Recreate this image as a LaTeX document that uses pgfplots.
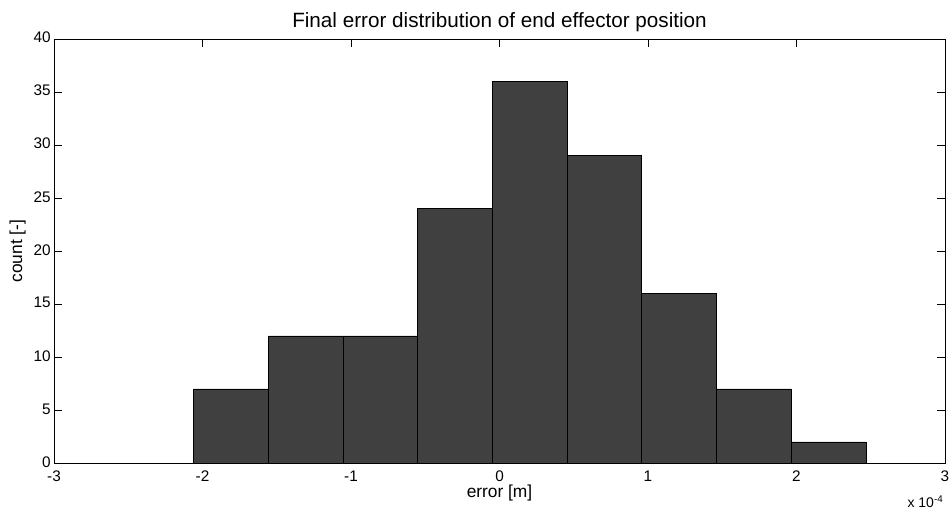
\documentclass[border=0pt]{standalone}
\usepackage{pgfplots}
\pgfplotsset{compat=1.18}
\usepackage{fontspec}
\setmainfont{Liberation Sans}
\definecolor{bargray}{HTML}{404040}

\begin{document}
\begin{tikzpicture}
\begin{axis}[
  scale only axis,
  width=668pt, height=318pt,
  xmin=-3, xmax=3, ymin=0, ymax=40,
  xtick={-3,-2,-1,0,1,2,3},
  ytick={0,5,10,15,20,25,30,35,40},
  tick align=inside,
  major tick length=6pt,
  tick style={black, line width=0.6pt},
  axis line style={line width=0.6pt},
  ticklabel style={font=\fontsize{11.5}{13}\selectfont},
  /pgf/number format/assume math mode=true,
  xticklabel style={yshift=-2.5pt},
  yticklabel style={xshift=1pt, yshift=1pt},
  title={Final error distribution of end effector position},
  title style={font=\fontsize{15.5}{17}\selectfont, yshift=-4pt},
  xlabel={error [m]},
  ylabel={count [-]},
  label style={font=\fontsize{13}{15}\selectfont},
  xlabel style={yshift=5pt},
  ylabel style={yshift=-1pt},
]
\addplot[ybar interval, fill=bargray, draw=black, line width=0.5pt] coordinates {
  (-2.060,7) (-1.557,12) (-1.054,12) (-0.551,24) (-0.048,36)
  (0.455,29) (0.958,16) (1.461,7) (1.964,2) (2.467,2)
};
\coordinate (ll) at (rel axis cs:0,0);
\coordinate (ur) at (rel axis cs:1,1);
\end{axis}
\node[anchor=north east, font=\fontsize{10.5}{12}\selectfont, inner sep=0pt] at ([xshift=-1pt,yshift=-24pt]ur |- ll) {x 10\textsuperscript{-4}};
\pgfresetboundingbox
\path ([xshift=-40.5pt,yshift=-37.5pt]ll) rectangle ([xshift=4.5pt,yshift=29.25pt]ur);
\end{tikzpicture}
\end{document}
